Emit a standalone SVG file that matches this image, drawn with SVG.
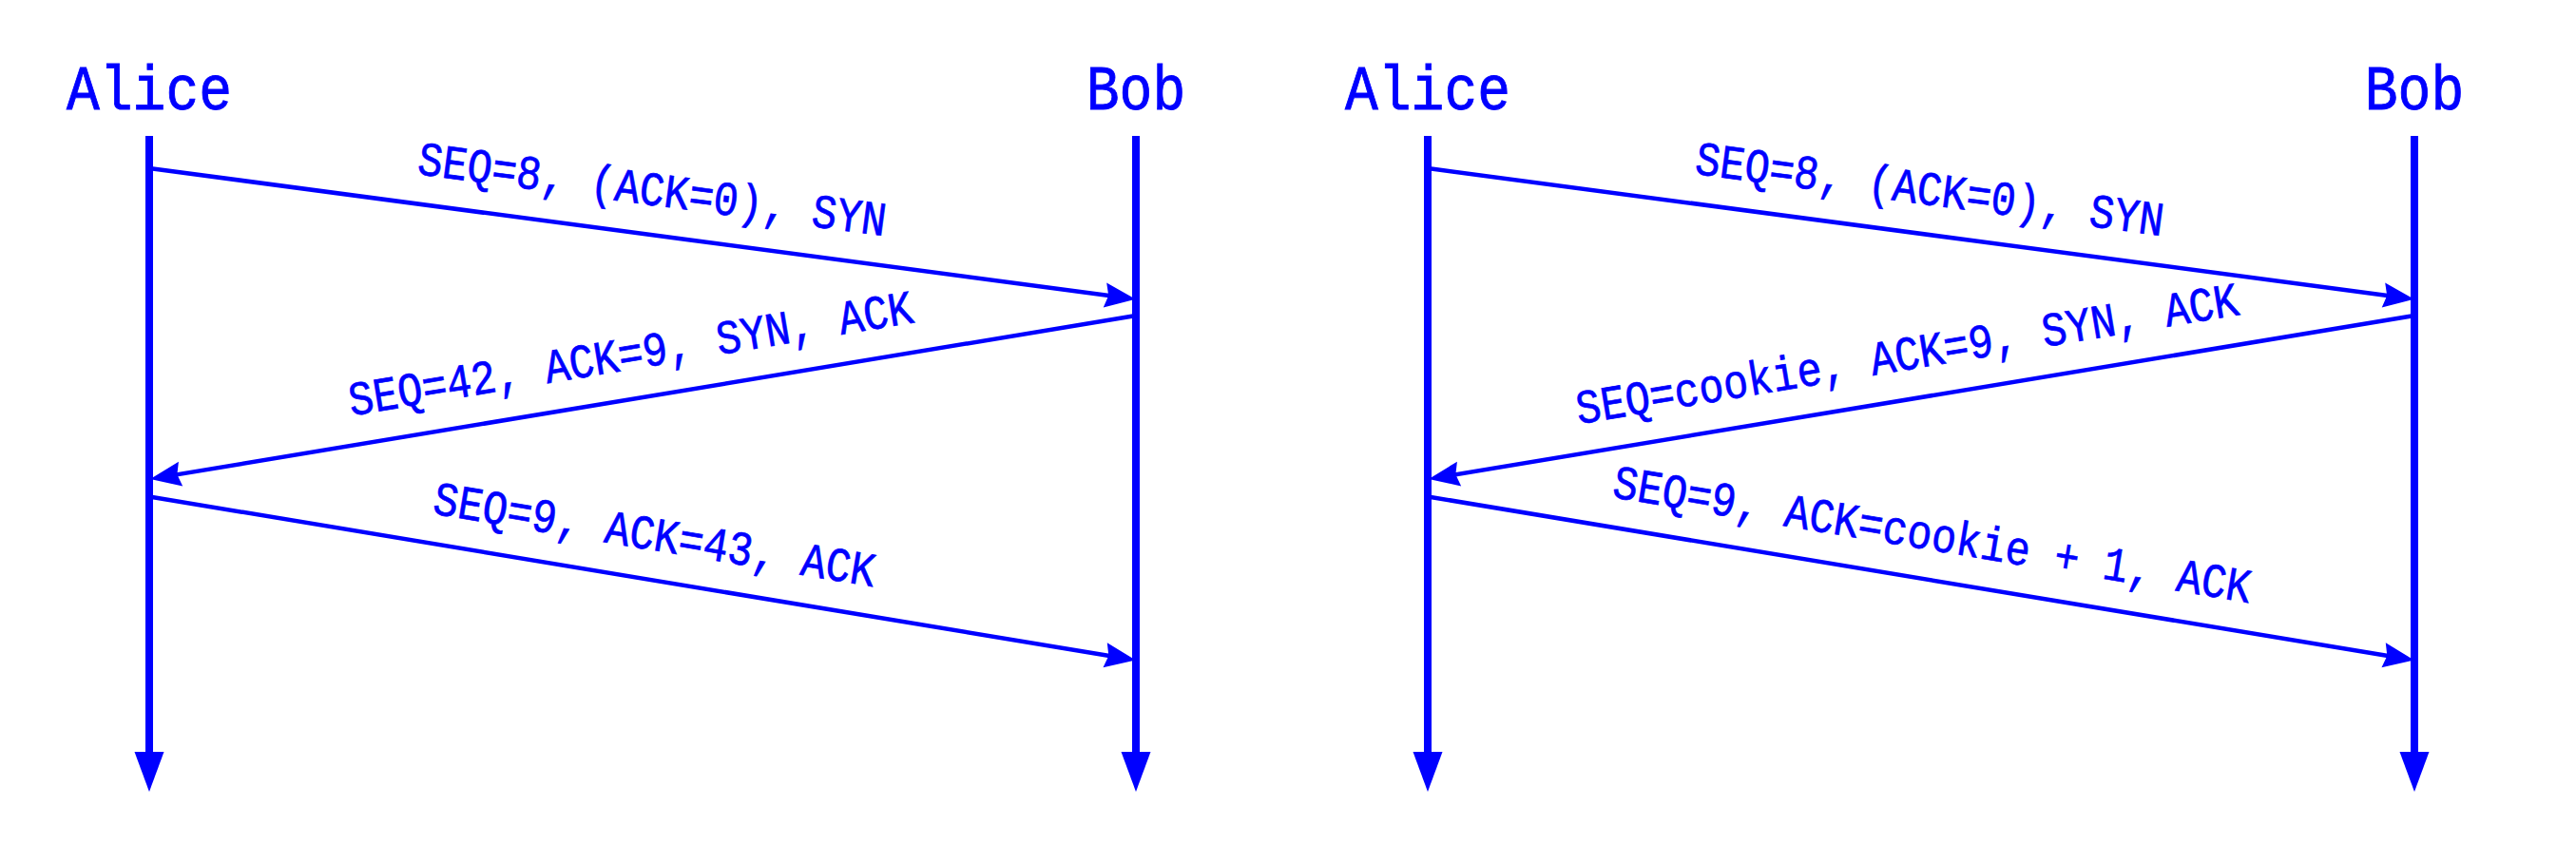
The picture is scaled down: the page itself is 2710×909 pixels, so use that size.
<svg xmlns="http://www.w3.org/2000/svg" width="2710" height="909" viewBox="0 0 2710 909">
<style>
.life{stroke:#0000ff;stroke-width:8;fill:none}
.msg{stroke:#0000ff;stroke-width:4.5;fill:none;marker-end:url(#ah)}
.head{fill:#0000ff}
.name{font-family:"Liberation Mono",monospace;font-size:58px;fill:#0000ff;text-anchor:middle;stroke:#0000ff;stroke-width:0.8}
.lbl{font-family:"Liberation Mono",monospace;font-size:44px;fill:#0000ff;text-anchor:middle;stroke:#0000ff;stroke-width:0.6}
</style>
<defs>
<marker id="ah" markerUnits="userSpaceOnUse" markerWidth="40" markerHeight="30" viewBox="-12 -12 28 24" refX="0" refY="0" orient="auto" overflow="visible">
<path d="M-11,-10.5 L15,0 L-11,10.5 L-8,0 Z" fill="#0000ff"/>
</marker>
</defs>
<rect width="2710" height="909" fill="#ffffff"/>
<g id="left-alice">
<text class="name" transform="translate(157,114.5) scale(1,1.15)">Alice</text>
<line class="life" x1="157" y1="143" x2="157" y2="795"/>
<path class="head" d="M141.5,791 L172.5,791 L157,833 Z"/>
</g>
<g id="left-bob">
<text class="name" transform="translate(1195,114.5) scale(1,1.15)">Bob</text>
<line class="life" x1="1195" y1="143" x2="1195" y2="795"/>
<path class="head" d="M1179.5,791 L1210.5,791 L1195,833 Z"/>
</g>
<g id="right-alice">
<text class="name" transform="translate(1502,114.5) scale(1,1.15)">Alice</text>
<line class="life" x1="1502" y1="143" x2="1502" y2="795"/>
<path class="head" d="M1486.5,791 L1517.5,791 L1502,833 Z"/>
</g>
<g id="right-bob">
<text class="name" transform="translate(2540,114.5) scale(1,1.15)">Bob</text>
<line class="life" x1="2540" y1="143" x2="2540" y2="795"/>
<path class="head" d="M2524.5,791 L2555.5,791 L2540,833 Z"/>
</g>
<g id="connectors">
<line class="msg" x1="157" y1="177" x2="1176.1" y2="312.3"/>
<line class="msg" x1="1195" y1="332" x2="176.5" y2="500.85"/>
<line class="msg" x1="157" y1="522.5" x2="1176.2" y2="691.55"/>
<line class="msg" x1="1502" y1="177" x2="2521.1" y2="312.3"/>
<line class="msg" x1="2540" y1="332" x2="1521.5" y2="500.85"/>
<line class="msg" x1="1502" y1="522.5" x2="2521.2" y2="691.55"/>
<text class="lbl" transform="translate(680,246.4) rotate(7.56) scale(0.99,1.15)" x="0" y="-27">SEQ=8, (ACK=0), SYN</text>
<text class="lbl" transform="translate(671,418.9) rotate(-9.41) scale(0.99,1.15)" x="0" y="-27">SEQ=42, ACK=9, SYN, ACK</text>
<text class="lbl" transform="translate(681,609.4) rotate(9.42) scale(0.99,1.15)" x="0" y="-27">SEQ=9, ACK=43, ACK</text>
<text class="lbl" transform="translate(2024,246.3) rotate(7.56) scale(0.99,1.15)" x="0" y="-27">SEQ=8, (ACK=0), SYN</text>
<text class="lbl" transform="translate(2014,419.2) rotate(-9.41) scale(0.99,1.15)" x="0" y="-27">SEQ=cookie, ACK=9, SYN, ACK</text>
<text class="lbl" transform="translate(2025,609.2) rotate(9.42) scale(0.99,1.15)" x="0" y="-27">SEQ=9, ACK=cookie + 1, ACK</text>
</g>
</svg>
